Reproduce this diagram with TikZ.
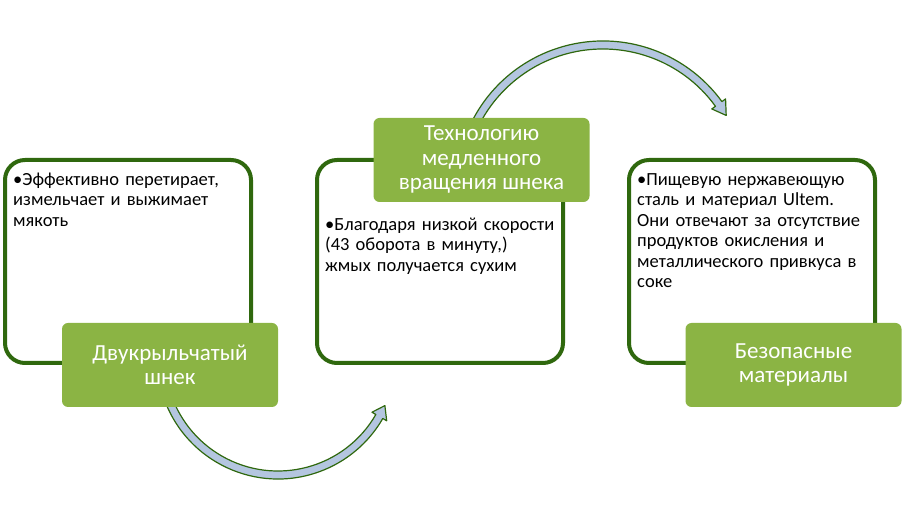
\documentclass[tikz,border=0pt]{standalone}
\usepackage{fontspec}
\setmainfont{Carlito}
\definecolor{boxline}{RGB}{47,104,14}
\definecolor{tagfill}{RGB}{139,180,68}
\definecolor{arrowfill}{RGB}{180,198,224}
\newcommand{\bul}{\setbox0\hbox{•}\hangindent=\wd0\hangafter=1\box0}
\begin{document}
\begin{tikzpicture}[x=1pt,y=1pt,
  panel/.style={draw=boxline,line width=4pt,fill=white,rounded corners=20pt,minimum width=246pt,minimum height=203pt,inner sep=0pt,outer sep=0pt},
  tag/.style={fill=tagfill,rounded corners=6pt,minimum width=216pt,minimum height=84pt,text=white,align=center,font=\fontsize{23}{24.5}\selectfont},
  note/.style={anchor=north west,inner sep=0pt,text width=236pt,align=left,font=\fontsize{18.5}{20.4}\selectfont},
  curlarrow/.style={draw=boxline,line width=1.2pt,fill=arrowfill,line join=round}]
\useasboundingbox (0,0) rectangle (906,525);
\draw[curlarrow,shift={(278,167)}] (200:121) arc[start angle=200,end angle=330,radius=121]
  -- (330:125.5) -- (336:117) -- (330:108.5) -- (330:113) arc[start angle=330,end angle=200,radius=113] -- cycle;
\draw[curlarrow,shift={(603,337)}] (155:147) arc[start angle=155,end angle=36,radius=147]
  -- (36:151.5) -- (30.5:143) -- (36:134.5) -- (36:139) arc[start angle=36,end angle=155,radius=139] -- cycle;
\node[panel] (panelA) at (128,263.5) {};
\node[panel] (panelB) at (440,263.5) {};
\node[panel] (panelC) at (752,263.5) {};
\node[note] (noteA) at ([xshift=8pt,yshift=-11pt]panelA.north west) {\strut\bul Эффективно перетирает,\newline измельчает и выжимает\newline мякоть};
\node[note] (noteB) at ([xshift=8pt,yshift=-56pt]panelB.north west) {\strut\bul Благодаря низкой скорости\newline (43 оборота в минуту,)\newline жмых получается сухим};
\node[note] (noteC) at ([xshift=8pt,yshift=-11pt]panelC.north west) {\strut\bul Пищевую нержавеющую\newline сталь и материал Ultem.\newline Они отвечают за отсутствие\newline продуктов окисления и\newline металлического привкуса в\newline соке};
\node[tag] (tagA) at (170,160) {Двукрыльчатый\\шнек};
\node[tag] (tagB) at (481.5,365) {Технологию\\медленного\\вращения шнека};
\node[tag] (tagC) at (793.5,160) {Безопасные\\материалы};
\end{tikzpicture}
\end{document}
